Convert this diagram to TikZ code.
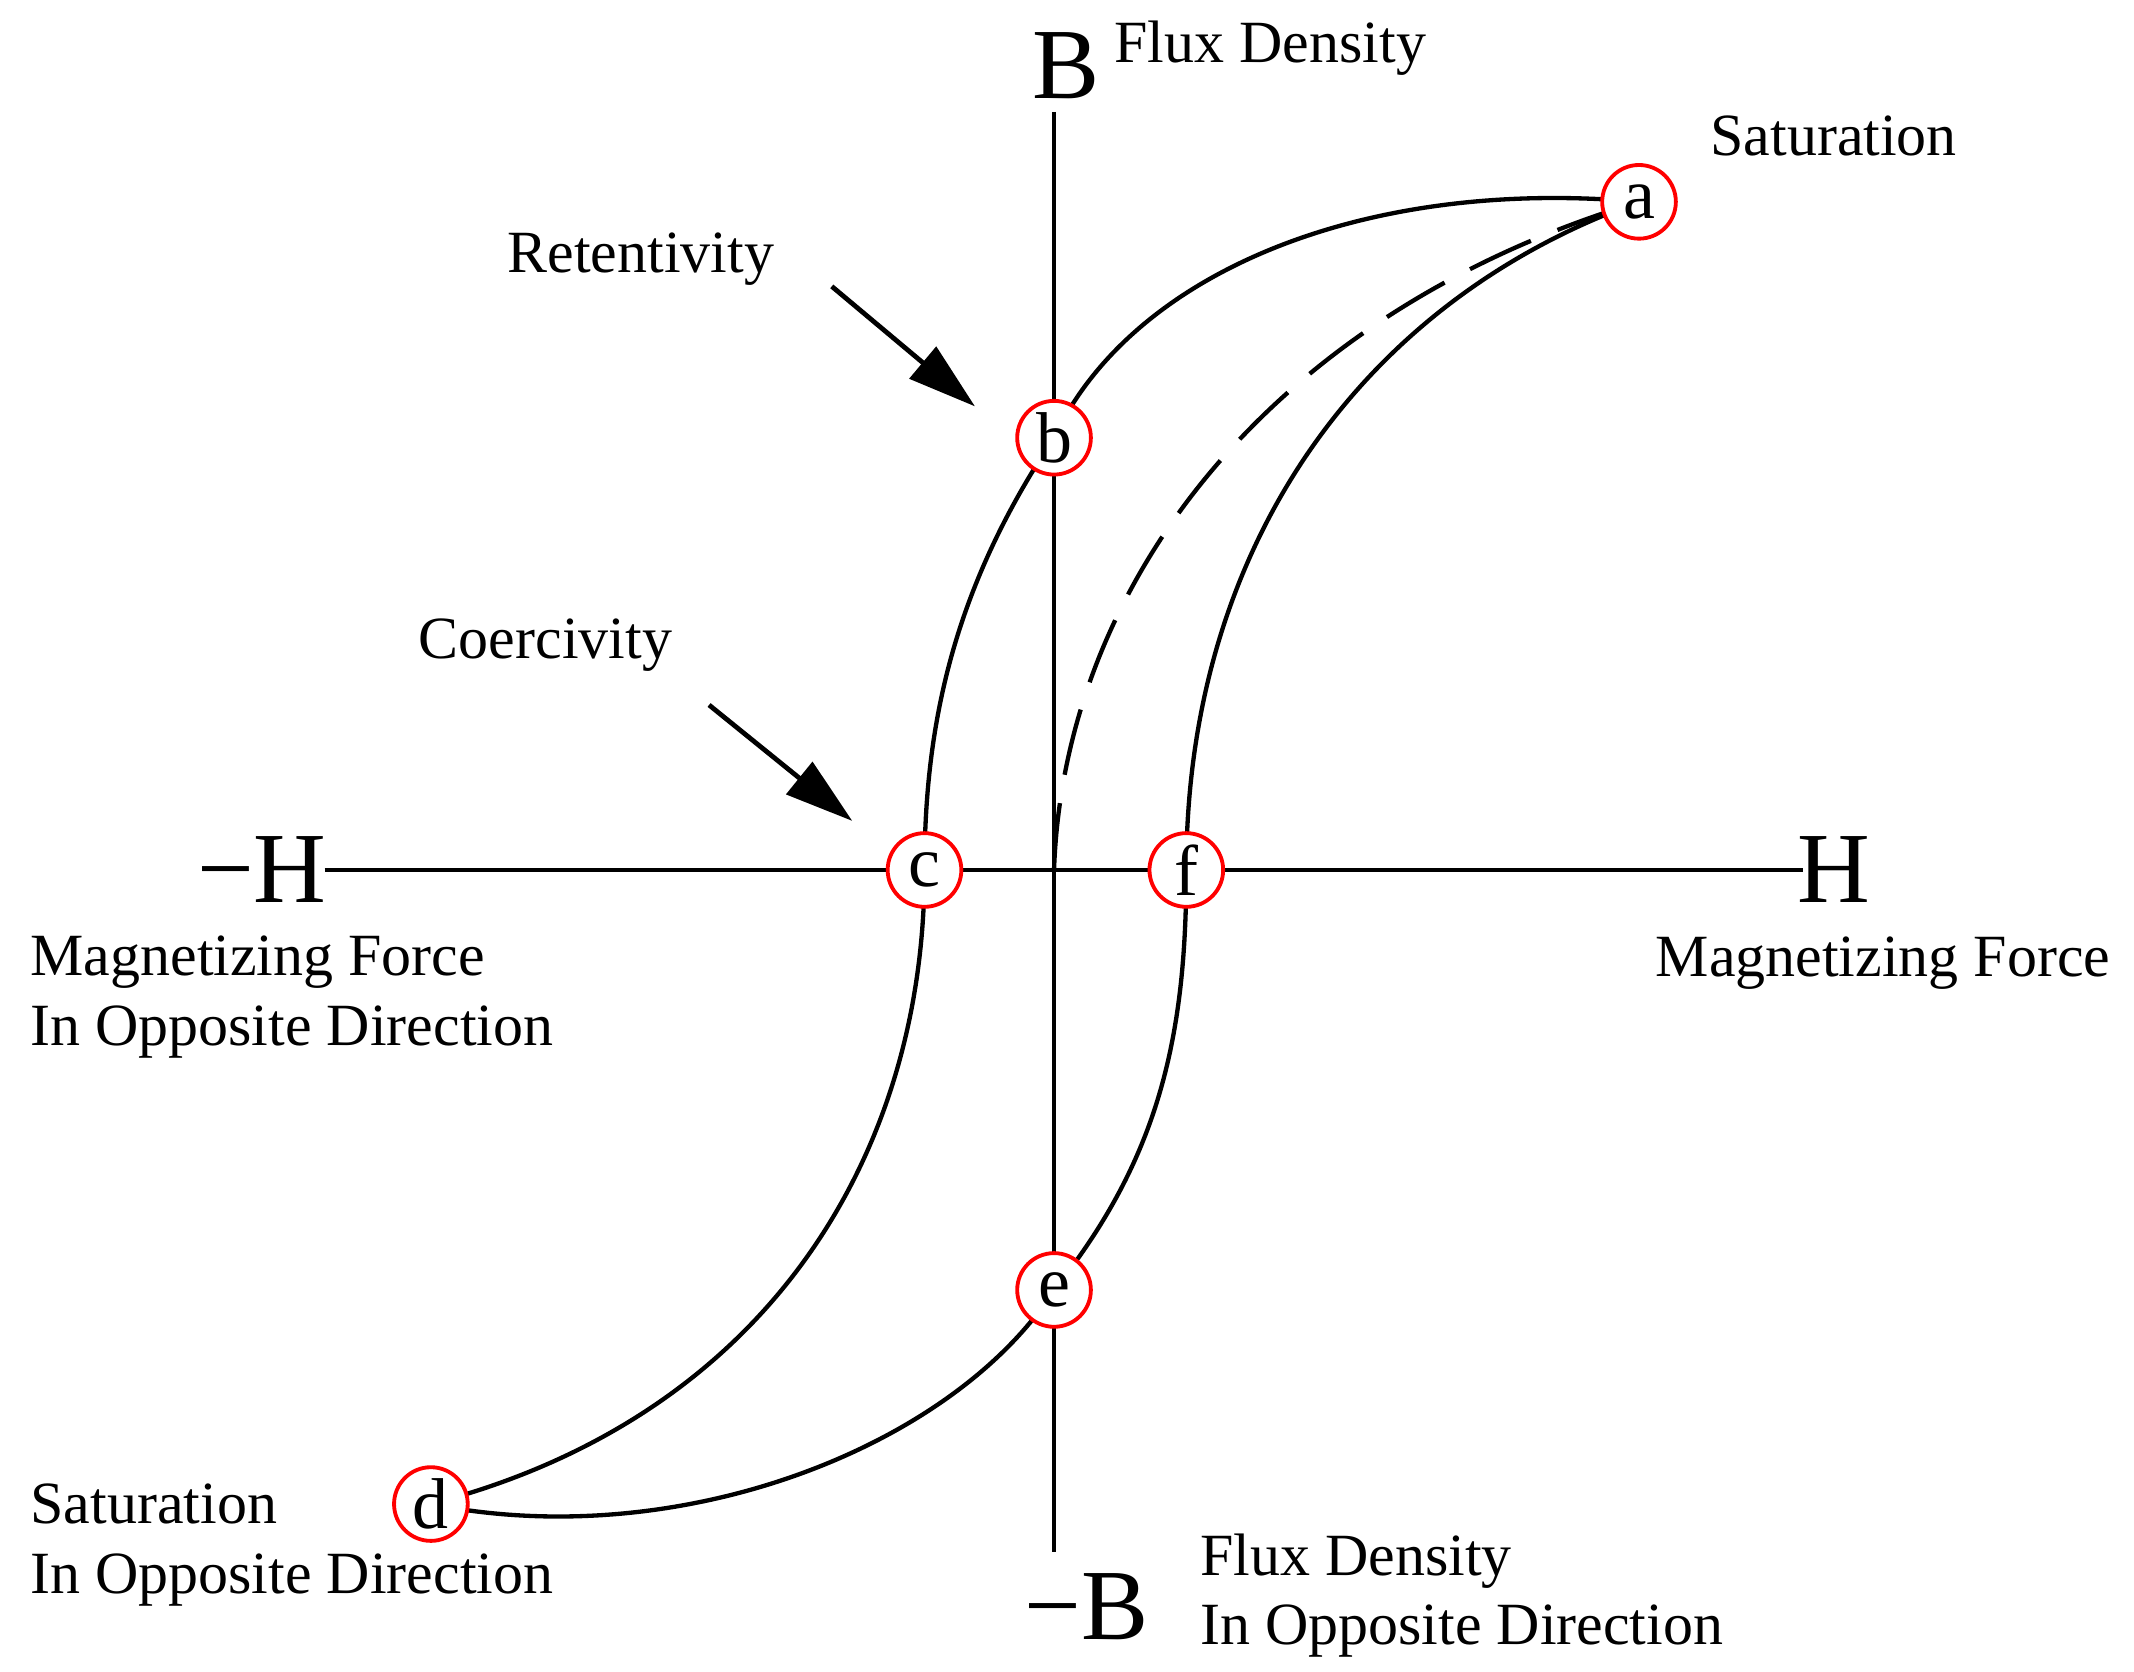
\documentclass[tikz,border=0pt]{standalone}
\usepackage{fontspec}
\setmainfont{Liberation Serif}
\usetikzlibrary{arrows.meta}
\begin{document}
\begin{tikzpicture}[x=0.01cm,y=-0.01cm,
  pt/.style={circle,draw=red,fill=white,thick,minimum size=0.54cm,inner sep=0pt,font=\fontsize{15}{15}\selectfont},
  lbl/.style={font=\fontsize{12.5}{14.5}\selectfont},
  big/.style={font=\fontsize{21}{21}\selectfont},
  curve/.style={line width=0.9pt},
  pointer/.style={line width=1pt,-{Triangle[length=0.5cm,width=0.3cm]}}]
\useasboundingbox (0,0) rectangle (1565,1226);
\coordinate (vt) at (773,82); \coordinate (vb) at (773,1138);
\coordinate (hl) at (238,638); \coordinate (hr) at (1322,638);
\coordinate (o) at (773,638);
\draw[line width=0.9pt] (vt) -- (vb);
\draw[line width=0.9pt] (hl) -- (hr);
\coordinate (A) at (1202,148); \coordinate (Bp) at (773,321);
\coordinate (C) at (678,638); \coordinate (F) at (870,638);
\coordinate (E) at (773,946); \coordinate (D) at (316,1103);
\draw[curve] (A) .. controls (1000,130) and (830,200) .. (Bp)
  .. controls (700,430) and (678,530) .. (C)
  .. controls (678,850) and (560,1040) .. (D)
  .. controls (500,1140) and (700,1060) .. (E)
  .. controls (850,850) and (870,760) .. (F)
  .. controls (870,400) and (1000,220) .. (A);
\draw[curve,dash pattern=on 14pt off 6pt] (o) .. controls (780,430) and (930,230) .. (A);
\node[pt] (a) at (A) {a};
\node[pt] (b) at (Bp) {b};
\node[pt] (c) at (C) {c};
\node[pt] (f) at (F) {f};
\node[pt] (e) at (E) {e};
\node[pt] (d) at (D) {d};
\node[big] (Bl) at (782,48) {B};
\node[lbl,anchor=west] (fd) at (805,35) {Flux Density};
\node[lbl,anchor=west] (sat) at (1242,100) {Saturation};
\node[lbl] (ret) at (470,190) {Retentivity};
\node[lbl] (coe) at (400,473) {Coercivity};
\coordinate (r1) at (610,210); \coordinate (r2) at (715,298);
\coordinate (c1) at (520,517); \coordinate (c2) at (625,602);
\draw[pointer] (r1) -- (r2);
\draw[pointer] (c1) -- (c2);
\node[big] (mH) at (192,638) {−H};
\node[big] (H) at (1345,638) {H};
\node[lbl,anchor=east] (mf) at (1560,706) {Magnetizing Force};
\node[lbl,anchor=west,align=left] (mfo) at (10,731) {Magnetizing Force\\In Opposite Direction};
\node[lbl,anchor=west,align=left] (so) at (10,1133) {Saturation\\In Opposite Direction};
\node[big] (mB) at (797,1178) {−B};
\node[lbl,anchor=west,align=left] (fdo) at (868,1170) {Flux Density\\In Opposite Direction};
\end{tikzpicture}
\end{document}
